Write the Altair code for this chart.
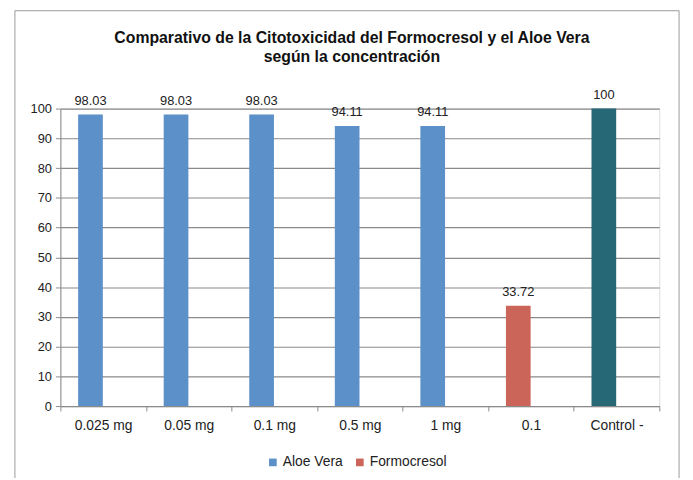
import altair as alt
import pandas as pd

categories = ["0.025 mg", "0.05 mg", "0.1 mg", "0.5 mg", "1 mg", "0.1", "Control -"]
values = [98.03, 98.03, 98.03, 94.11, 94.11, 33.72, 100]
series = ["Aloe Vera", "Aloe Vera", "Aloe Vera", "Aloe Vera", "Aloe Vera", "Formocresol", "Control"]
slots = ["a"] * 7
y_ticks = [0, 10, 20, 30, 40, 50, 60, 70, 80, 90, 100]

df = pd.DataFrame({"cat": categories, "value": values, "series": series, "slot": slots})

FONT = "Liberation Sans"
W, H = 606, 301

x = alt.X("cat:N", sort=categories, title=None,
          scale=alt.Scale(paddingInner=0, paddingOuter=0),
          axis=alt.Axis(labelAngle=0, tickBand="extent", tickSize=5, tickColor="#8c8c8c",
                        domainColor="#8c8c8c", labelFont=FONT, labelFontSize=14,
                        labelColor="#222222", labelPadding=8, grid=False))
xo = alt.XOffset("slot:N", scale=alt.Scale(domain=["a", "b"], paddingInner=0.027, paddingOuter=0.7))
y = alt.Y("value:Q", title=None,
          scale=alt.Scale(domain=[0, 100], nice=False),
          axis=alt.Axis(values=y_ticks, tickCount=11, labelOverlap=False, tickSize=5,
                        tickColor="#8c8c8c", domainColor="#8c8c8c", gridColor="#8a8a8a",
                        gridWidth=1.2, labelFont=FONT, labelFontSize=13, labelColor="#222222",
                        labelPadding=4))

base = alt.Chart(df)

bars = base.mark_bar().encode(
    x=x, xOffset=xo, y=y,
    color=alt.Color("series:N",
                    scale=alt.Scale(domain=["Aloe Vera", "Formocresol", "Control"],
                                    range=["#5b90c8", "#cb6459", "#266875"]),
                    legend=alt.Legend(title=None, values=["Aloe Vera", "Formocresol"],
                                      orient="none", legendX=208, legendY=351,
                                      direction="horizontal", symbolType="square",
                                      symbolSize=60, labelFont=FONT, labelFontSize=14,
                                      labelColor="#222222", columnPadding=10, symbolOffset=0,
                                      labelOffset=3)),
)

labels = base.mark_text(baseline="bottom", dy=-7, font=FONT, fontSize=13, color="#222222").encode(
    x=x, xOffset=xo, y=y, text="value:Q"
)

frame = alt.Chart(pd.DataFrame({"f": [0]})).mark_rect(fill=None, stroke="#9a9a9a", strokeWidth=1).encode(
    x=alt.value(-46), x2=alt.value(626), y=alt.value(-99), y2=alt.value(420)
)

chart = alt.layer(frame, bars, labels).properties(
    width=W, height=H,
    title=alt.TitleParams(["Comparativo de la Citotoxicidad del Formocresol y el Aloe Vera",
                           "según la concentración"],
                          font=FONT, fontSize=16, fontWeight="bold", color="#111111",
                          anchor="middle", frame="group", dx=-8, offset=-55, lineHeight=19),
    autosize=alt.AutoSizeParams(type="none"),
    padding={"left": 53, "top": 99, "right": 26, "bottom": 70},
).configure_view(stroke=None).configure(background="white")

chart.save("out.html", embed_options={"renderer": "svg", "actions": False})
